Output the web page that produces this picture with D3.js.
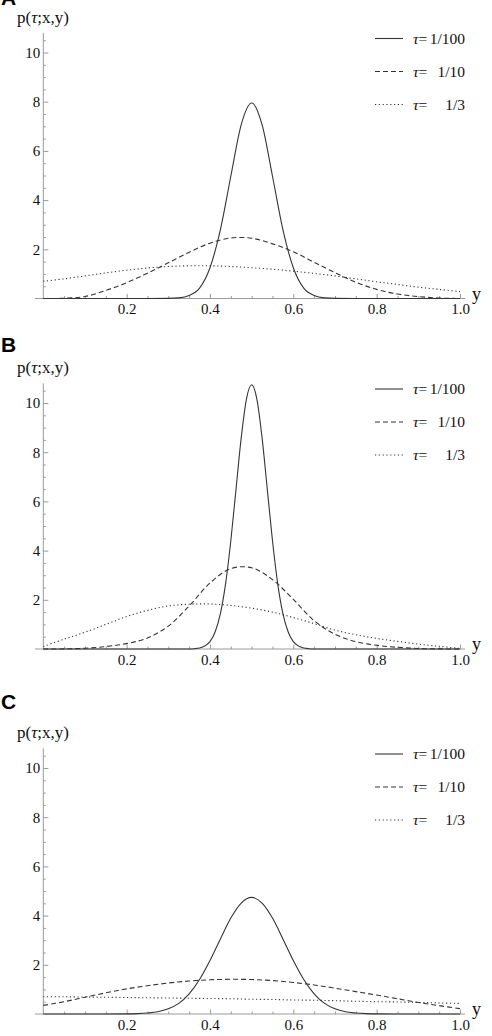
<!DOCTYPE html>
<html>
<head>
<meta charset="utf-8">
<script src="https://cdn.jsdelivr.net/npm/d3@7"></script>
<style>
  body { margin: 0; background: #fff; }
  svg text { font-family: "Liberation Serif", "Times New Roman", serif; fill: #111; }
  .letter { font-family: "Liberation Sans", Arial, sans-serif !important; font-weight: bold; }
</style>
</head>
<body>
<div id="chart"></div>
<script>
// shared y grid for the tau=1/10 and tau=1/3 curves
const yGrid = [0, 0.05, 0.1, 0.15, 0.2, 0.25, 0.3, 0.35, 0.4, 0.45, 0.5,
               0.55, 0.6, 0.65, 0.7, 0.75, 0.8, 0.85, 0.9, 0.95, 1.0];

// panel A
const solidXA = [0, 0.25, 0.3, 0.325, 0.35, 0.375, 0.4, 0.425, 0.45, 0.475, 0.5,
                 0.525, 0.55, 0.575, 0.6, 0.625, 0.65, 0.675, 0.7, 0.75, 1];
const solidA  = [0, 0, 0.004, 0.025, 0.12, 0.42, 1.25, 2.8, 4.97, 7.07, 7.95,
                 7.07, 4.97, 2.8, 1.25, 0.42, 0.12, 0.025, 0.004, 0, 0];
const dashedA = [0, 0.01, 0.08, 0.33, 0.64, 1.03, 1.45, 1.88, 2.25, 2.46, 2.45,
                 2.22, 1.9, 1.47, 1.05, 0.66, 0.37, 0.18, 0.08, 0.02, 0];
const dottedA = [0.7, 0.8, 0.92, 1.04, 1.15, 1.24, 1.3, 1.33, 1.33, 1.3, 1.25,
                 1.19, 1.11, 1.02, 0.92, 0.8, 0.68, 0.57, 0.46, 0.37, 0.28];

// panel B
const solidXB = [0, 0.3, 0.35, 0.3625, 0.375, 0.3875, 0.4, 0.4125, 0.425, 0.4375, 0.45,
                 0.4625, 0.475, 0.4875, 0.5, 0.5125, 0.525, 0.5375, 0.55, 0.5625, 0.575,
                 0.5875, 0.6, 0.6125, 0.625, 0.6375, 0.65, 0.7, 1];
const solidB  = [0, 0, 0.003, 0.012, 0.04, 0.12, 0.3, 0.7, 1.44, 2.66, 4.4,
                 6.5, 8.59, 10.16, 10.74, 10.16, 8.59, 6.5, 4.4, 2.66, 1.44,
                 0.7, 0.3, 0.12, 0.04, 0.012, 0.003, 0, 0];
const dashedB = [0, 0.005, 0.03, 0.1, 0.22, 0.45, 0.93, 1.75, 2.68, 3.27, 3.3,
                 2.82, 2.02, 1.15, 0.6, 0.3, 0.15, 0.07, 0.02, 0.005, 0];
const dottedB = [0.1, 0.4, 0.68, 1.0, 1.32, 1.57, 1.75, 1.82, 1.83, 1.77, 1.66,
                 1.5, 1.28, 1.03, 0.77, 0.58, 0.43, 0.31, 0.2, 0.11, 0.02];

// panel C
const solidXC = [0, 0.15, 0.2, 0.225, 0.25, 0.275, 0.3, 0.325, 0.35, 0.375, 0.4,
                 0.425, 0.45, 0.475, 0.5, 0.525, 0.55, 0.575, 0.6, 0.625, 0.65,
                 0.675, 0.7, 0.725, 0.75, 0.775, 0.8, 0.85, 1];
const solidC  = [0, 0, 0.004, 0.015, 0.04, 0.09, 0.21, 0.43, 0.82, 1.4, 2.17,
                 3.05, 3.9, 4.51, 4.74, 4.51, 3.9, 3.05, 2.17, 1.4, 0.82,
                 0.43, 0.21, 0.09, 0.04, 0.015, 0.004, 0, 0];
const dashedC = [0.35, 0.5, 0.68, 0.86, 1.02, 1.15, 1.26, 1.34, 1.39, 1.41, 1.4,
                 1.36, 1.28, 1.18, 1.05, 0.91, 0.77, 0.62, 0.47, 0.34, 0.22];
const dottedC = [0.7, 0.7, 0.69, 0.68, 0.67, 0.66, 0.65, 0.64, 0.63, 0.62, 0.6,
                 0.59, 0.57, 0.56, 0.54, 0.52, 0.5, 0.49, 0.47, 0.45, 0.43];

const xTickLabels = [0.2, 0.4, 0.6, 0.8, 1.0];
const yTickLabels = [2, 4, 6, 8, 10];
const legendTau = ["1/100", "1/10", "1/3"];
const panelLetters = ["A", "B", "C"];

const width = 492, height = 1036;
const svg = d3.select("#chart").append("svg")
    .attr("width", width)
    .attr("height", height);

const axisColor = "#9a9a9a";
const curveColor = "#353535";
const dashes = [null, "5,3", "1.2,2.6"];

// layout per panel: zero line, letter baseline
const panelBase = [298.5, 649, 1014];
const letterY = [5, 352, 709];

const panels = [
    { solid: [solidXA, solidA], dashed: dashedA, dotted: dottedA },
    { solid: [solidXB, solidB], dashed: dashedB, dotted: dottedB },
    { solid: [solidXC, solidC], dashed: dashedC, dotted: dottedC }
];

const x = d3.scaleLinear().domain([0, 1]).range([43.3, 460]);
const yMinor = d3.range(0.5, 10.8, 0.5).filter(v => v % 2 !== 0);
const xMinor = d3.range(0.05, 1.001, 0.05).filter(v => Math.abs(v * 5 - Math.round(v * 5)) > 1e-6);

panels.forEach((p, i) => {
    const base = panelBase[i];
    const y = d3.scaleLinear().domain([0, 10.8]).range([base, base - 10.8 * 24.6]);
    const g = svg.append("g");

    // panel letter
    g.append("text")
        .attr("class", "letter")
        .attr("x", 1)
        .attr("y", letterY[i])
        .style("font-size", "21px")
        .style("fill", "#000")
        .text(panelLetters[i]);

    // axis lines
    g.append("line")
        .attr("x1", x(-0.02)).attr("x2", x(1.012))
        .attr("y1", y(0)).attr("y2", y(0))
        .attr("stroke", axisColor);
    g.append("line")
        .attr("x1", x(0)).attr("x2", x(0))
        .attr("y1", y(0)).attr("y2", y(10.8))
        .attr("stroke", axisColor);

    // y axis ticks (pointing inward)
    const gy = g.append("g")
        .attr("transform", "translate(" + x(0) + ",0)")
        .call(d3.axisLeft(y).tickValues(yTickLabels).tickSize(-5).tickPadding(3)
            .tickFormat(d3.format("d")));
    const gyMinor = g.append("g")
        .attr("transform", "translate(" + x(0) + ",0)")
        .call(d3.axisLeft(y).tickValues(yMinor).tickSize(-2.5).tickFormat(""));

    // x axis ticks
    const gx = g.append("g")
        .attr("transform", "translate(0," + y(0) + ")")
        .call(d3.axisBottom(x).tickValues(xTickLabels).tickSize(-4.5).tickPadding(5)
            .tickFormat(d3.format(".1f")));
    const gxMinor = g.append("g")
        .attr("transform", "translate(0," + y(0) + ")")
        .call(d3.axisBottom(x).tickValues(xMinor).tickSize(-2.5).tickFormat(""));

    [gy, gyMinor, gx, gxMinor].forEach(a => {
        a.attr("font-size", null).attr("font-family", null);
        a.select(".domain").remove();
        a.selectAll(".tick line").attr("stroke", axisColor);
        a.selectAll("text")
            .style("font-size", "15px")
            .style("font-family", "'Liberation Serif', 'Times New Roman', serif")
            .attr("fill", "#111");
    });

    // axis labels
    const pl = g.append("text")
        .attr("x", 17)
        .attr("y", base - 276)
        .style("font-size", "17px");
    pl.append("tspan").text("p(");
    pl.append("tspan").style("font-style", "italic").text("τ");
    pl.append("tspan").text(";x,y)");

    g.append("text")
        .attr("x", 472)
        .attr("y", base + 1)
        .style("font-size", "18px")
        .text("y");

    // curves
    const line = d3.line()
        .x(d => x(d[0]))
        .y(d => y(d[1]));

    const series = [
        d3.zip(p.solid[0], p.solid[1]),
        d3.zip(yGrid, p.dashed),
        d3.zip(yGrid, p.dotted)
    ];

    series.forEach((s, k) => {
        line.curve(k === 0 ? d3.curveMonotoneX : d3.curveCatmullRom.alpha(0.5));
        g.append("path")
            .datum(s)
            .attr("fill", "none")
            .attr("stroke", curveColor)
            .attr("stroke-width", 1.1)
            .attr("stroke-dasharray", dashes[k])
            .attr("d", line);
    });

    // legend
    legendTau.forEach((lab, k) => {
        const ly = base - 260 + k * 33;
        g.append("line")
            .attr("x1", 375).attr("x2", 403)
            .attr("y1", ly).attr("y2", ly)
            .attr("stroke", curveColor)
            .attr("stroke-width", 1.1)
            .attr("stroke-dasharray", dashes[k]);
        const t = g.append("text")
            .attr("x", 413)
            .attr("y", ly + 5)
            .style("font-size", "15.5px");
        t.append("tspan").style("font-style", "italic").text("τ");
        t.append("tspan").text("=");
        g.append("text")
            .attr("x", 465)
            .attr("y", ly + 5)
            .attr("text-anchor", "end")
            .style("font-size", "15.5px")
            .text(lab);
    });
});
</script>
</body>
</html>
